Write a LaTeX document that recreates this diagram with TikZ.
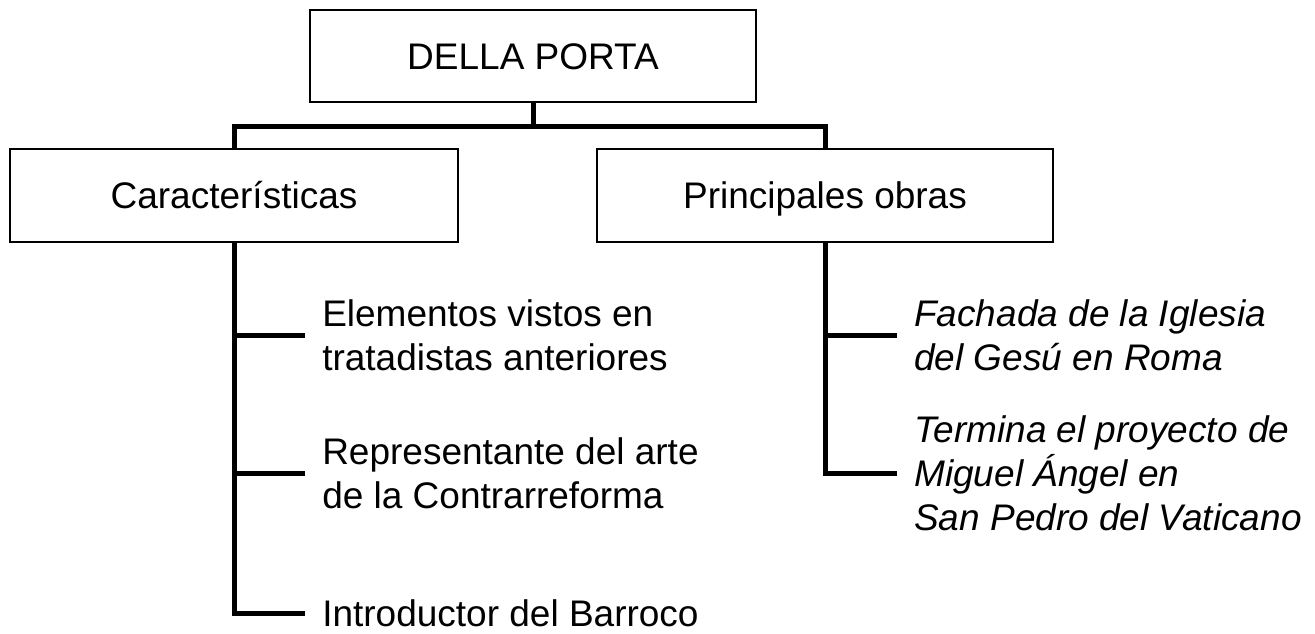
\documentclass[tikz,border=0pt]{standalone}
\usepackage{fontspec}
\setmainfont{Liberation Sans}
\usetikzlibrary{positioning}

\begin{document}
\begin{tikzpicture}[
  x=0.75pt, y=-0.75pt,
  box/.style={draw, line width=1.5pt, minimum height=69.5pt, align=center,
              inner sep=0pt, text height=19.9pt, text depth=0pt,
              font=\fontsize{27.75}{33}\selectfont},
  item/.style={anchor=west, align=left, inner xsep=12.75pt, inner ysep=0pt,
               font=\fontsize{27.75}{33}\selectfont},
  obra/.style={item, font=\fontsize{27.75}{33}\selectfont\itshape},
  link/.style={line width=3.75pt, line join=miter}
]
  \useasboundingbox (0,0) rectangle (1315,633);

  \node[box, minimum width=334.5pt] (della) at (533,56)    {DELLA PORTA};
  \node[box, minimum width=336pt]   (carac) at (234,195.5) {Características};
  \node[box, minimum width=342pt]   (obras) at (825,195.5) {Principales obras};

  \node[item] (elem)  at (305,335) {Elementos vistos en\\tratadistas anteriores};
  \node[item] (repr)  at (305,473) {Representante del arte\\de la Contrarreforma};
  \node[item] (intro) at (305,613) {Introductor del Barroco};
  \node[obra] (gesu)  at (897,335) {Fachada de la Iglesia\\del Gesú en Roma};
  \node[obra] (vatic) at (897,473) {Termina el proyecto de\\Miguel Ángel en\\San Pedro del Vaticano};

  \draw[link] (della.south) -- ++(0,23) coordinate (hub);
  \draw[link] (carac.north) |- (hub) -| (obras.north);
  \draw[link] (carac.south) |- (intro.west);
  \draw[link] (carac.south |- elem.west) -- (elem.west);
  \draw[link] (carac.south |- repr.west) -- (repr.west);
  \draw[link] (obras.south) |- (vatic.west);
  \draw[link] (obras.south |- gesu.west) -- (gesu.west);
\end{tikzpicture}
\end{document}
